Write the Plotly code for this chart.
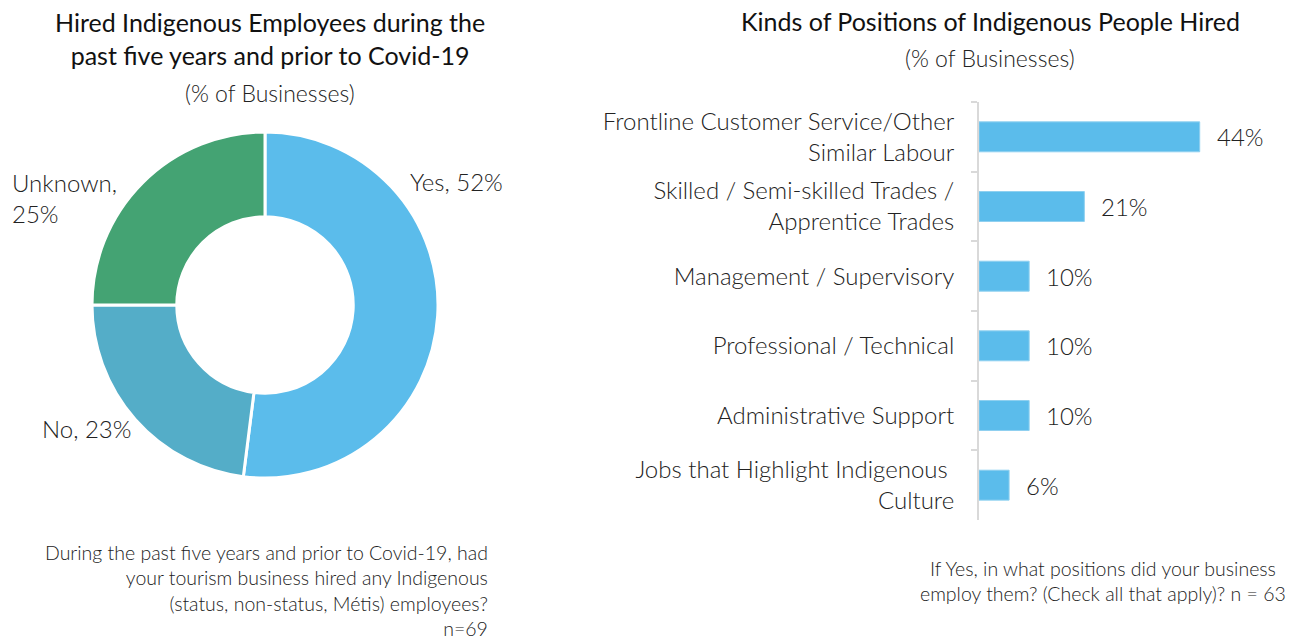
import plotly.graph_objects as go

# Donut: hiring of Indigenous employees
pie_labels = ["Yes", "No", "Unknown"]
pie_values = [52, 23, 25]
pie_colors = ["#5BBCEB", "#54ADC8", "#44A373"]

# Bars: kinds of positions
positions = [
    "Frontline Customer Service/Other<br>Similar Labour",
    "Skilled / Semi-skilled Trades /<br>Apprentice Trades",
    "Management / Supervisory",
    "Professional / Technical",
    "Administrative Support",
    "Jobs that Highlight Indigenous <br>Culture",
]
position_pct = [44, 21, 10, 10, 10, 6]
bar_color = "#5BBCEB"

FONT = "Lato"
WGT = 300
TXT = "#222222"
W, H = 1303, 639


def px(x):
    return x / W


def py(y):
    return 1 - y / H


def f(size, color=TXT, weight=WGT):
    return dict(size=size, color=color, family=FONT, weight=weight)


fig = go.Figure()

fig.add_trace(go.Pie(
    labels=pie_labels,
    values=pie_values,
    hole=0.51,
    sort=False,
    direction="clockwise",
    rotation=0,
    marker=dict(colors=pie_colors, line=dict(color="white", width=3)),
    textinfo="none",
    showlegend=False,
    domain=dict(x=[px(92), px(438)], y=[py(478), py(132)]),
))

fig.add_trace(go.Bar(
    x=position_pct,
    y=positions,
    orientation="h",
    marker=dict(color=bar_color, line=dict(color="#8FD0F0", width=1)),
    width=0.43,
    showlegend=False,
    xaxis="x",
    yaxis="y",
))

fig.update_layout(
    width=W,
    height=H,
    margin=dict(l=0, r=0, t=0, b=0),
    paper_bgcolor="white",
    plot_bgcolor="white",
    font=dict(family=FONT, color=TXT, weight=WGT),
    xaxis=dict(
        domain=[px(979), px(1290)],
        range=[0, 62.0],
        visible=False,
        fixedrange=True,
    ),
    yaxis=dict(
        domain=[py(520), py(102)],
        autorange="reversed",
        showline=True,
        linecolor="#D9D9D9",
        linewidth=2,
        ticks="outside",
        tickson="boundaries",
        ticklen=6,
        tickcolor="#D9D9D9",
        tickwidth=2,
        ticklabelstandoff=18,
        tickfont=f(24),
        showgrid=False,
        zeroline=False,
        fixedrange=True,
    ),
)

annotations = []

# Value labels beside each bar
for cat, v in zip(positions, position_pct):
    annotations.append(dict(
        x=v, y=cat, xref="x", yref="y", text=f"{v}%",
        showarrow=False, xanchor="left", xshift=15,
        font=f(24),
    ))

# Donut slice labels
pie_label_pos = {
    "Yes": (408, 181, "left"),
    "No": (40, 428, "left"),
    "Unknown": (10, 198, "left"),
}
for lab, v in zip(pie_labels, pie_values):
    x, y, anchor = pie_label_pos[lab]
    text = f"{lab},<br>{v}%" if lab == "Unknown" else f"{lab}, {v}%"
    annotations.append(dict(
        x=px(x), y=py(y), xref="paper", yref="paper", text=text,
        showarrow=False, xanchor=anchor, yanchor="middle", align="left",
        font=f(24),
    ))

# Titles
annotations += [
    dict(x=px(270), y=py(39), xref="paper", yref="paper",
         text="Hired Indigenous Employees during the<br>past five years and prior to Covid-19",
         showarrow=False, xanchor="center", yanchor="middle",
         font=f(25, "#111111", 400)),
    dict(x=px(270), y=py(93), xref="paper", yref="paper",
         text="(% of Businesses)", showarrow=False, xanchor="center", yanchor="middle",
         font=f(23)),
    dict(x=px(990), y=py(21), xref="paper", yref="paper",
         text="Kinds of Positions of Indigenous People Hired",
         showarrow=False, xanchor="center", yanchor="middle",
         font=f(25, "#111111", 400)),
    dict(x=px(990), y=py(58), xref="paper", yref="paper",
         text="(% of Businesses)", showarrow=False, xanchor="center", yanchor="middle",
         font=f(23)),
]

# Survey question footnotes
annotations += [
    dict(x=px(490), y=py(590), xref="paper", yref="paper",
         text="During the past five years and prior to Covid-19, had<br>"
              "your tourism business hired any Indigenous<br>"
              "(status, non-status, Métis) employees?<br>n=69",
         showarrow=False, xanchor="right", yanchor="middle", align="right",
         font=f(19.5)),
    dict(x=px(1103), y=py(581), xref="paper", yref="paper",
         text="If Yes, in what positions did your business<br>"
              "employ them? (Check all that apply)? n = 63",
         showarrow=False, xanchor="center", yanchor="middle", align="center",
         font=f(19.5)),
]

fig.update_layout(annotations=annotations)

fig.write_html("out.html")
